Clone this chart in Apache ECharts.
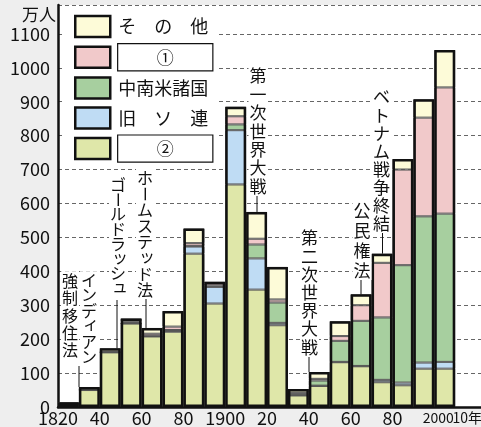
<!DOCTYPE html>
<html>
<head>
<meta charset="utf-8">
<script src="https://cdn.jsdelivr.net/npm/echarts@6/dist/echarts.min.js"></script>
<style>
  html, body { margin: 0; padding: 0; background: #eeeeee; }
  #chart { width: 481px; height: 427px; }
</style>
</head>
<body>
<div id="chart"></div>
<script>
// decades (bar start years) and the category slots of the axis
var decades = [1820, 1830, 1840, 1850, 1860, 1870, 1880, 1890, 1900, 1910, 1920, 1930, 1940, 1950, 1960, 1970, 1980, 1990, 2000];
var slots = ['1820', '1830', '1840', '1850', '1860', '1870', '1880', '1890', '1900', '1910', '1920', '1930', '1940', '1950', '1960', '1970', '1980', '1990', '2000', '2010', '2020'];

// 万人, stacked bottom to top
var europe2 = [10, 50, 161, 246, 208, 222, 452, 305, 656, 346, 241, 34, 62, 132, 120, 73, 64, 113, 113];
var ussr    = [0, 0, 0, 0, 0, 2, 21, 49, 160, 92, 7, 1, 1, 1, 1, 7, 8, 18, 20];
var latin   = [0, 1, 1, 1, 2, 3, 2, 4, 17, 41, 60, 5, 15, 62, 133, 184, 346, 431, 437];
var asia1   = [0, 0, 0, 4, 6, 10, 8, 6, 24, 17, 9, 2, 5, 14, 46, 161, 282, 291, 372];
var others  = [4, 8, 11, 10, 17, 46, 43, 5, 28, 79, 96, 11, 20, 44, 32, 27, 31, 54, 110];

// x tick labels
var tickYears = [1820, 1840, 1860, 1880, 1900, 1920, 1940, 1960, 1980, 2000, 2010];
var tickText  = ['1820', '40', '60', '80', '1900', '20', '40', '60', '80', '2000', '10年'];

var totals = decades.map(function (d, i) {
  return europe2[i] + ussr[i] + latin[i] + asia1[i] + others[i];
});

var FONT = '"Noto Sans CJK JP", "Noto Sans", sans-serif';

var chart = echarts.init(document.getElementById('chart'));

function seg(name, data, color) {
  return {
    name: name,
    type: 'bar',
    stack: 'all',
    data: data,
    barGap: '-100%',
    barCategoryGap: '0%',
    z: 2,
    itemStyle: { color: color, borderColor: '#555', borderWidth: 1 }
  };
}

var option = {
  backgroundColor: '#eeeeee',
  animation: false,
  textStyle: { fontFamily: FONT },
  grid: {
    left: 58, right: -16, top: 5, bottom: 20,
    show: true, backgroundColor: '#ffffff', borderWidth: 0,
    outerBoundsMode: 'none'
  },
  legend: {
    orient: 'vertical',
    left: 64, top: 8,
    padding: [5, 5, 5, 10],
    backgroundColor: '#ffffff',
    itemWidth: 35, itemHeight: 21, itemGap: 3,
    icon: 'rect',
    selectedMode: false,
    itemStyle: { borderColor: '#111', borderWidth: 2.5 },
    data: ['その他', '①', '中南米諸国', '旧ソ連', '②'],
    formatter: function (name) {
      if (name === '①' || name === '②') return '{b|' + name + '}';
      if (name === 'その他' || name === '旧ソ連') {
        var cs = name.split('');
        return cs.map(function (c, i) {
          return (i < cs.length - 1 ? '{w|' : '{t|') + c + '}';
        }).join('');
      }
      return '{t|' + name + '}';
    },
    textStyle: {
      color: '#111', fontSize: 18, fontFamily: FONT, padding: [0, 0, 0, 3],
      rich: {
        t: { fontSize: 18, height: 27, lineHeight: 27 },
        w: { fontSize: 18, width: 36, height: 27, lineHeight: 27, align: 'left' },
        b: { fontSize: 17, width: 94, height: 26, lineHeight: 26, align: 'center',
             borderColor: '#111', borderWidth: 1.2, backgroundColor: '#fff' }
      }
    }
  },
  xAxis: [
    {
      type: 'category', data: slots, position: 'bottom',
      axisLine: { show: true, lineStyle: { color: '#111', width: 2.5 } },
      axisTick: { show: false }, axisLabel: { show: false }, splitLine: { show: false }
    },
    {
      type: 'value', min: 1820, max: 2030, interval: 10, position: 'bottom',
      axisLine: { show: false }, axisTick: { show: false }, splitLine: { show: false },
      axisLabel: {
        color: '#111', fontSize: 18, margin: 2, fontFamily: FONT,
        formatter: function (v) {
          var k = tickYears.indexOf(v);
          if (k < 0) return '';
          if (v === 2000) return '{a|' + tickText[k] + '}';
          if (v === 2010) return '{c|' + tickText[k] + '}';
          return tickText[k];
        },
        rich: {
          a: { fontSize: 14, padding: [2, 0, 0, 8] },
          c: { fontSize: 14, padding: [2, 0, 0, 24] }
        }
      }
    }
  ],
  yAxis: {
    type: 'value', min: 0, max: 1185, interval: 100,
    axisLine: { show: true, lineStyle: { color: '#111', width: 2.5 } },
    axisTick: { show: false },
    axisLabel: {
      color: '#111', fontSize: 18, margin: 8, fontFamily: FONT,
      formatter: function (v) { return v % 100 === 0 ? String(v) : ''; }
    },
    splitLine: { show: true, lineStyle: { color: '#666', width: 1, type: [4, 3] } }
  },
  series: [
    seg('②', europe2, '#dfe7a9'),
    seg('旧ソ連', ussr, '#bfdcf4'),
    seg('中南米諸国', latin, '#a7cf9f'),
    seg('①', asia1, '#f1c9ca'),
    seg('その他', others, '#fdfbd8'),
    {
      name: 'total',
      type: 'bar',
      data: totals,
      barGap: '-100%',
      barCategoryGap: '0%',
      z: 3,
      silent: true,
      itemStyle: { color: 'rgba(0,0,0,0)', borderColor: '#111', borderWidth: 2.5 }
    }
  ]
};

chart.setOption(option);

// vertical annotations
var notes = [
  { cols: [{ s: 'インディアン', x: 89, y: 280, step: 15.4, size: 16 },
           { s: '強制移住法', x: 70, y: 281, step: 17.3, size: 16 }], lx: 79, ly: 366, bar: 1 },
  { cols: [{ s: 'ゴールドラッシュ', x: 118, y: 185, step: 14.7, size: 16 }], lx: 117, ly: 300, bar: 2 },
  { cols: [{ s: 'ホームステッド法', x: 145, y: 178, step: 16, size: 16 }], lx: 146, ly: 299, bar: 4 },
  { cols: [{ s: '第一次世界大戦', x: 258, y: 76, step: 18.4, size: 17 }], lx: 257, ly: 196, bar: 9 },
  { cols: [{ s: '第二次世界大戦', x: 309.5, y: 238, step: 18.2, size: 17 }], lx: 309, ly: 357, bar: 12 },
  { cols: [{ s: '公民権法', x: 362, y: 211, step: 19.7, size: 17 }], lx: 361, ly: 280, bar: 14 },
  { cols: [{ s: 'ベトナム戦争終結', x: 381.5, y: 97, step: 18.1, size: 17 }], lx: 382.5, ly: 233, bar: 15 }
];
var small = 'ァィゥェォッャュョ';

var g = [];
notes.forEach(function (n) {
  n.cols.forEach(function (c) {
    var chars = c.s.split('');
    g.push({
      type: 'rect', z: 40, silent: true,
      shape: { x: c.x - c.size / 2 - 1, y: c.y - c.step / 2 - 1, width: c.size + 2, height: chars.length * c.step + 1 },
      style: { fill: '#ffffff' }
    });
    chars.forEach(function (ch, i) {
      var dx = 0, dy = 0;
      if (small.indexOf(ch) >= 0) { dx = c.size * 0.12; dy = -c.size * 0.12; }
      g.push({
        type: 'text', z: 41, silent: true,
        x: c.x + dx, y: c.y + i * c.step + dy,
        rotation: ch === 'ー' ? -Math.PI / 2 : 0,
        style: { text: ch, font: c.size + 'px ' + FONT, fill: '#111', align: 'center', verticalAlign: 'middle' }
      });
    });
  });
  var top = chart.convertToPixel({ yAxisIndex: 0 }, totals[n.bar]);
  g.push({
    type: 'line', z: 41, silent: true,
    shape: { x1: n.lx, y1: n.ly, x2: n.lx, y2: top },
    style: { stroke: '#111', lineWidth: 1 }
  });
});

g.push({
  type: 'text', z: 41, silent: true, x: 39, y: 15,
  style: { text: '万人', font: '17px ' + FONT, fill: '#111', align: 'center', verticalAlign: 'middle' }
});

chart.setOption({ graphic: g });
</script>
</body>
</html>
